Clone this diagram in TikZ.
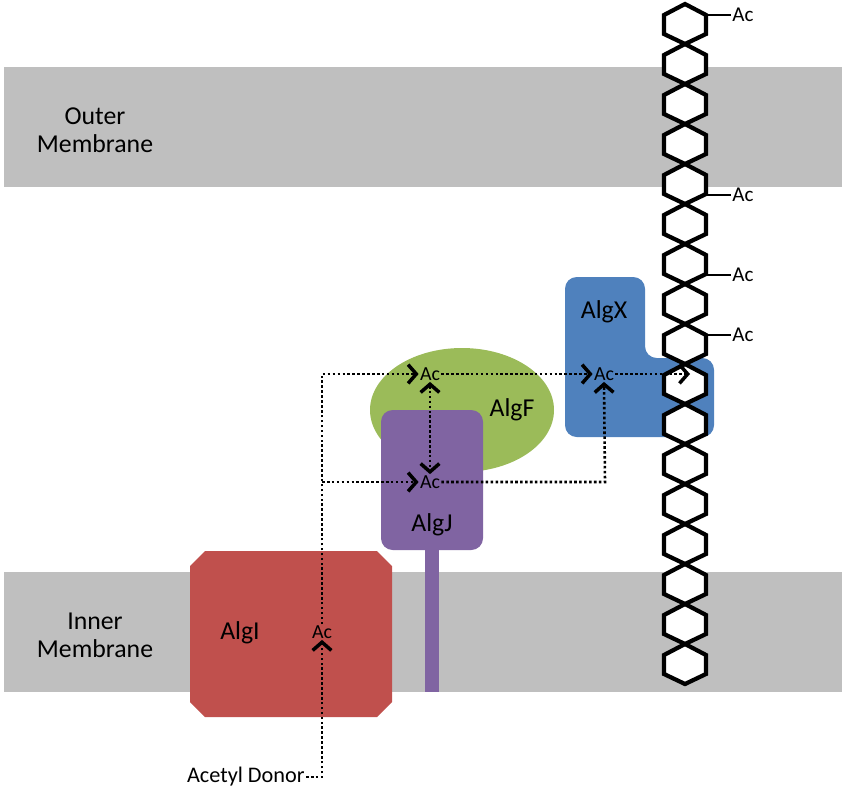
\documentclass[tikz,border=0pt]{standalone}
\usepackage{fontspec}
\setmainfont{Carlito}
\usetikzlibrary{arrows.meta,shapes.geometric}
\definecolor{memb}{HTML}{BFBFBF}
\definecolor{algi}{HTML}{C0504D}
\definecolor{algj}{HTML}{8064A2}
\definecolor{algf}{HTML}{9BBB59}
\definecolor{algx}{HTML}{4F81BD}
\begin{document}
\begin{tikzpicture}[x=0.03cm,y=-0.03cm,
  lbl/.style={font=\fontsize{22}{24}\selectfont,inner sep=0},
  ac/.style={font=\fontsize{17}{18}\selectfont,inner sep=1pt},
  flow/.style={line width=2.2pt,dotted,-{Straight Barb[length=7pt,width=16pt,line width=3pt]}},
  flowp/.style={line width=2.2pt,dotted}]
\useasboundingbox (0,0) rectangle (846,800);
\fill[memb] (4,67) rectangle (842,187);
\fill[memb] (4,572) rectangle (842,692);
\node[lbl,align=center] (om) at (95,130) {Outer\\Membrane};
\node[lbl,align=center] (im) at (95,635) {Inner\\Membrane};
% AlgI
\fill[algi] (205,551) -- (377,551) -- (392,566) -- (392,702) -- (377,717) -- (205,717) -- (190,702) -- (190,566) -- cycle;
\node[lbl] (algi) at (240,633) {AlgI};
% AlgF
\fill[algf] (462,410) ellipse [x radius=92, y radius=62];
% AlgJ
\fill[algj] (425,540) rectangle (439,692);
\fill[algj,rounded corners=10pt] (381,410) rectangle (483,550);
\node[lbl] (algf) at (512,410) {AlgF};
\node[lbl] (algj) at (432,525) {AlgJ};
% AlgX
\fill[algx,rounded corners=10pt] (565,277) -- (645,277) -- (645,358) -- (714,358) -- (714,437) -- (565,437) -- cycle;
\node[lbl] (algx) at (604,312) {AlgX};
% chain
\foreach \k in {0,...,16}{
  \pgfmathsetmacro\yy{4+40*\k}
  \draw[line width=3.6pt,fill=white,line join=miter] (685,\yy) -- (706,\yy+11) -- (706,\yy+30) -- (685,\yy+40) -- (664,\yy+30) -- (664,\yy+11) -- cycle;
}
\foreach \yy/\nm in {15/a,195/b,275/c,335/d}{
  \coordinate (s\nm) at (706,\yy);
  \node[ac,anchor=west,font=\fontsize{18}{20}\selectfont] (t\nm) at (731,\yy) {Ac};
  \draw[line width=2.5pt] (s\nm) -- (t\nm.west);
}
% Ac nodes
\node[ac] (aci) at (322,632) {Ac};
\node[ac] (acf) at (430,374) {Ac};
\node[ac] (acj) at (430,482) {Ac};
\node[ac] (acx) at (604,374) {Ac};
\node[font=\fontsize{19}{21}\selectfont,anchor=east,inner sep=1pt] (don) at (306,777) {Acetyl Donor};
\coordinate (c1) at (322,777);
\coordinate (c2) at (322,374);
\coordinate (c3) at (322,482);
\coordinate (c4) at (605,482);
\coordinate (ch) at (690,374);
\draw[flow] (don.east) -- (c1) -- (aci.south);
\draw[flow] (aci.north) -- (c2) -- (acf.west);
\draw[flow] (c3) -- (acj.west);
\draw[flowp,{Straight Barb[length=7pt,width=16pt,line width=3pt]}-{Straight Barb[length=7pt,width=16pt,line width=3pt]}] (acf.south) -- (acj.north);
\draw[flow] (acf.east) -- (acx.west);
\draw[flow] (acj.east) -- (c4) -- (acx.south);
\draw[flow] (acx.east) -- (ch);
\end{tikzpicture}
\end{document}
